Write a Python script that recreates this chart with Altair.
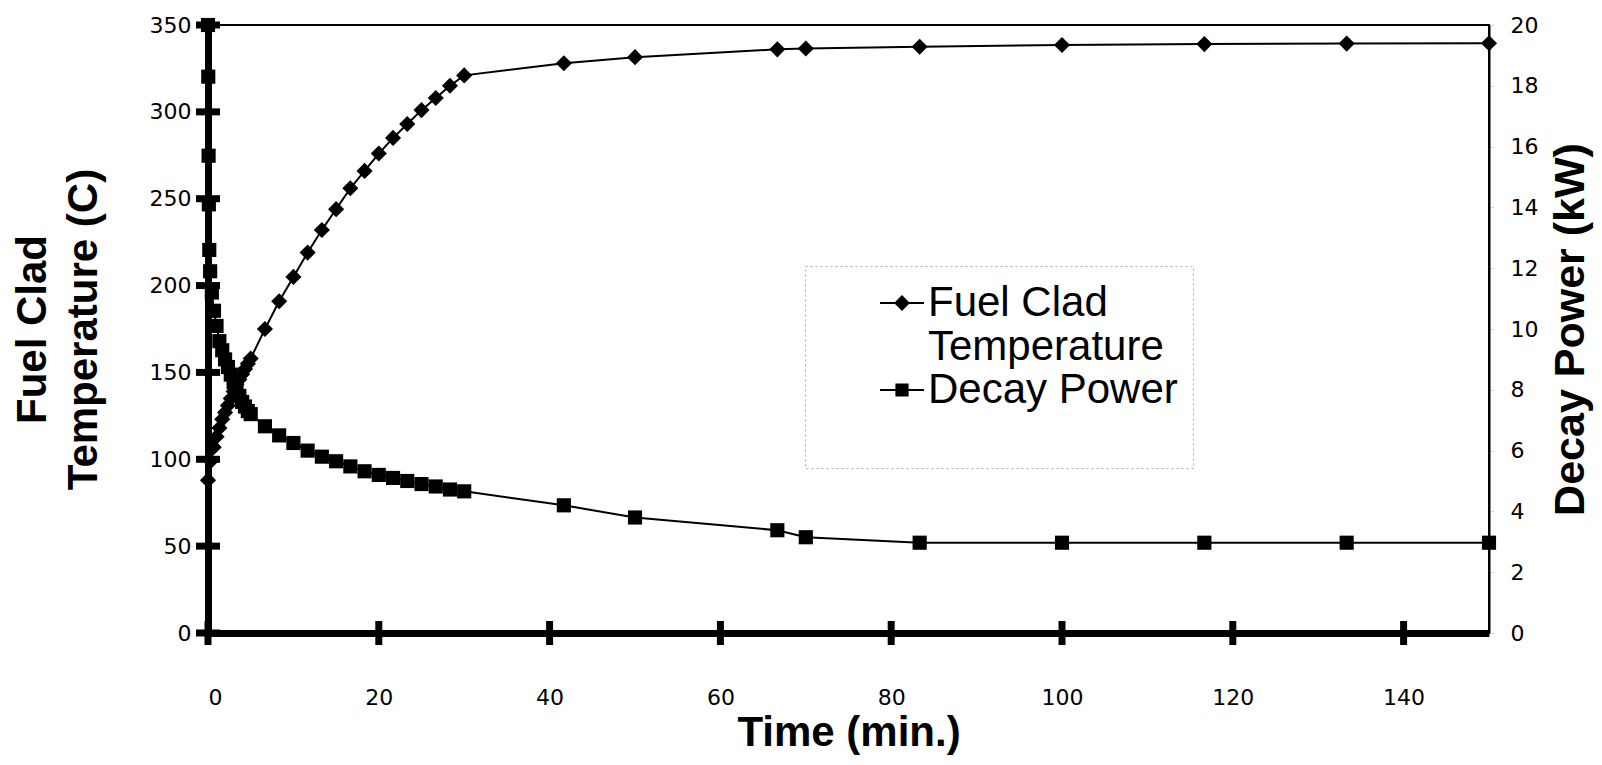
import altair as alt
import pandas as pd

# ---------------- data ----------------
temp_time = [0, 0.333, 0.667, 1.0, 1.333, 1.667, 2.0, 2.333, 2.667, 3.0, 3.333,
             3.667, 4.0, 4.333, 4.667, 5.0, 6.667, 8.333, 10.0, 11.667, 13.333,
             15.0, 16.667, 18.333, 20.0, 21.667, 23.333, 25.0, 26.667, 28.333,
             30.0, 41.667, 50.0, 66.667, 70.0, 83.333, 100.0, 116.667, 133.333, 150.0]
temp_vals = [88, 99, 107, 113, 118, 123, 127, 131, 135, 139, 143,
             146, 149, 152, 155, 158, 175, 191, 205, 219, 232,
             244, 256, 266, 276, 285, 293, 301, 308, 315,
             321, 328, 331.5, 336, 336.5, 337.5, 338.5, 339, 339.3, 339.5]

power_time = [0, 0.03, 0.07, 0.1, 0.15, 0.25, 0.45, 0.7, 1.0, 1.333, 1.667,
              2.0, 2.333, 2.667, 3.0, 3.333, 3.667, 4.0, 4.333, 4.667, 5.0,
              6.667, 8.333, 10.0, 11.667, 13.333, 15.0, 16.667, 18.333, 20.0,
              21.667, 23.333, 25.0, 26.667, 28.333, 30.0, 41.667, 50.0, 66.667,
              70.0, 83.333, 100.0, 116.667, 133.333, 150.0]
power_vals = [20.0, 18.3, 15.7, 14.1, 12.6, 11.9, 11.2, 10.6, 10.1, 9.6, 9.3,
              9.0, 8.75, 8.5, 8.25, 8.0, 7.8, 7.6, 7.45, 7.3, 7.2,
              6.8, 6.5, 6.25, 6.0, 5.8, 5.65, 5.48, 5.32, 5.2,
              5.1, 5.0, 4.9, 4.82, 4.72, 4.66, 4.2, 3.8, 3.38,
              3.15, 2.97, 2.97, 2.97, 2.97, 2.97]

x_ticks = [0, 20, 40, 60, 80, 100, 120, 140]
left_ticks = [0, 50, 100, 150, 200, 250, 300, 350]
right_ticks = [0, 2, 4, 6, 8, 10, 12, 14, 16, 18, 20]
series_names = ["Fuel Clad|Temperature", "Decay Power"]

FONT = "Liberation Sans"
TICK_FONT = "DejaVu Sans"

temp_df = pd.DataFrame({"t": temp_time, "v": temp_vals})
pow_df = pd.DataFrame({"t": power_time, "v": power_vals})
xt_df = pd.DataFrame({"t": x_ticks, "v": [0] * len(x_ticks)})
yt_df = pd.DataFrame({"t": [0] * len(left_ticks), "v": left_ticks})
leg_df = pd.DataFrame({"series": series_names, "t": [0, 0], "v": [0, 0]})

xscale = alt.Scale(domain=[0, 150], nice=False, zero=False)
x_axis = alt.Axis(values=x_ticks, title="Time (min.)", ticks=False,
                  domainWidth=7, domainColor="black", grid=False,
                  labelFont=TICK_FONT, labelFontSize=22, labelColor="black",
                  labelPadding=54, titleFont=FONT, titleFontSize=42,
                  titleFontWeight="bold", titleColor="black", titlePadding=4)
x_enc = alt.X("t:Q", scale=xscale, axis=x_axis)

yl_scale = alt.Scale(domain=[0, 350], nice=False)
yl_axis = alt.Axis(values=left_ticks, title=["Fuel Clad", "Temperature (C)"],
                   ticks=False, domainWidth=7, domainColor="black", grid=False,
                   labelFont=TICK_FONT, labelFontSize=22, labelColor="black",
                   labelPadding=17, titleFont=FONT, titleFontSize=42,
                   titleFontWeight="bold", titleColor="black", titleLineHeight=51,
                   titlePadding=44)
yl_enc = alt.Y("v:Q", scale=yl_scale, axis=yl_axis)

yr_scale = alt.Scale(domain=[0, 20], nice=False)
yr_axis = alt.Axis(values=right_ticks, title="Decay Power (kW)", orient="right",
                   ticks=True, tickSize=5, tickColor="#999999", tickWidth=1,
                   tickDash=[1, 2], domainWidth=2, domainColor="black", grid=False,
                   labelFont=TICK_FONT, labelFontSize=22, labelColor="black",
                   labelPadding=16, titleFont=FONT, titleFontSize=43,
                   titleFontWeight="bold", titleColor="black", titleAngle=270,
                   titlePadding=55)
yr_enc = alt.Y("v:Q", scale=yr_scale, axis=yr_axis)

temp_line = alt.Chart(temp_df).mark_line(color="black", strokeWidth=2).encode(
    x=x_enc, y=yl_enc)
temp_pts = alt.Chart(temp_df).mark_point(shape="diamond", filled=True, color="black",
                                          size=260, opacity=1).encode(
    x=x_enc, y=yl_enc)
ytick_marks = alt.Chart(yt_df).mark_tick(orient="horizontal", color="black",
                                         size=24, thickness=7, opacity=1).encode(
    x=x_enc, y=yl_enc)
xtick_marks = alt.Chart(xt_df).mark_tick(orient="vertical", color="black",
                                         size=24, thickness=7, opacity=1).encode(
    x=x_enc, y=yl_enc)

# legend glyphs: a thin line with the series marker on it (all filled)
diamond_path = ("M-1,-0.045L1,-0.045L1,0.045L-1,0.045Z"
                "M0,-0.36L0.36,0L0,0.36L-0.36,0Z")
square_path = ("M-1,-0.045L1,-0.045L1,0.045L-1,0.045Z"
               "M-0.3,-0.3L0.3,-0.3L0.3,0.3L-0.3,0.3Z")

legend_layer = alt.Chart(leg_df).mark_point(
    filled=True, color="black", opacity=0
).encode(
    x=x_enc, y=yl_enc,
    shape=alt.Shape(
        "series:N",
        scale=alt.Scale(domain=series_names, range=[diamond_path, square_path]),
        legend=alt.Legend(
            title="l", titleOrient="left", titleFontSize=213, titlePadding=0,
            titleOpacity=0, titleFont=FONT,
            orient="none", legendX=597, legendY=241,
            labelExpr="split(datum.label, '|')",
            labelFont=FONT, labelFontSize=42, labelColor="black",
            labelLimit=700, labelOffset=4,
            symbolSize=1936, symbolFillColor="black", symbolStrokeColor="black",
            symbolStrokeWidth=0, symbolOpacity=1, rowPadding=0,
            strokeColor="#aaaaaa", padding=15,
        ),
    ),
)

left = alt.layer(temp_line, temp_pts, ytick_marks, xtick_marks, legend_layer)

pow_line = alt.Chart(pow_df).mark_line(color="black", strokeWidth=2).encode(
    x=x_enc, y=yr_enc)
pow_pts = alt.Chart(pow_df).mark_point(shape="square", filled=True, color="black",
                                        size=200, opacity=1).encode(
    x=x_enc, y=yr_enc)
right = alt.layer(pow_line, pow_pts)

chart = alt.layer(left, right).resolve_scale(y="independent").properties(
    width=1281, height=608, background="white",
    autosize=alt.AutoSizeParams(type="none"),
    padding={"left": 200, "top": 17, "right": 105, "bottom": 124},
).configure_view(stroke="black", strokeWidth=2).configure_legend(
    strokeDash=[2, 3], strokeWidth=1
)

chart.save("out.html", embed_options={"renderer": "svg", "actions": False})
